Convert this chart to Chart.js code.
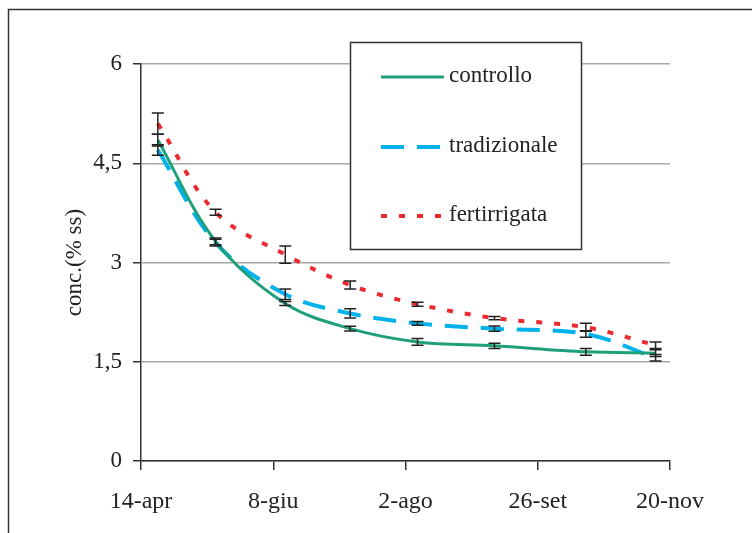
<!DOCTYPE html>
<html>
<head>
<meta charset="utf-8">
<script src="https://cdn.jsdelivr.net/npm/chart.js@4"></script>
<style>
    html, body { margin: 0; padding: 0; background: #fff; }
    #wrap { width: 752px; height: 533px; }
</style>
</head>
<body>
<div id="wrap"><canvas id="chart" width="752" height="533"></canvas></div>
<script>
// =============================
// DATA
// =============================
// sampling dates, as days after 14-apr
const samplingDays = [7, 31, 60, 87, 115, 147, 185, 214];

const controllo    = [4.85, 3.32, 2.38, 2.00, 1.80, 1.74, 1.65, 1.63];
const tradizionale = [4.70, 3.30, 2.52, 2.23, 2.08, 2.00, 1.92, 1.56];
const fertirrigata = [5.10, 3.76, 3.12, 2.66, 2.37, 2.16, 2.02, 1.75];

// half-length of the error bars
const controlloErr    = [0.09, 0.05, 0.03, 0.035, 0.05, 0.04, 0.05, 0.05];
const tradizionaleErr = [0.08, 0.05, 0.08, 0.07, 0.03, 0.04, 0.05, 0.05];
const fertirrigataErr = [0.16, 0.045, 0.13, 0.06, 0.03, 0.025, 0.06, 0.05];

const xTickLabels = ["14-apr", "8-giu", "2-ago", "26-set", "20-nov"];
const yTickLabels = ["0", "1,5", "3", "4,5", "6"];

const seriesNames = ["controllo", "tradizionale", "fertirrigata"];

// =============================
// HELPERS
// =============================
function toPoints(values) {
    return values.map((v, i) => ({ x: samplingDays[i], y: v }));
}

const FONT = "'Liberation Serif', 'Times New Roman', serif";
const INK = "#222";

// =============================
// PLUGINS
// =============================
const errorBars = {
    id: "errorBars",
    afterDatasetsDraw(chart) {
        const { ctx, scales: { x, y } } = chart;
        ctx.save();
        ctx.strokeStyle = INK;
        ctx.lineWidth = 1.5;
        chart.data.datasets.forEach(ds => {
            ds.data.forEach((p, i) => {
                const e = ds.errors[i];
                const px = x.getPixelForValue(p.x);
                const top = y.getPixelForValue(p.y + e);
                const bot = y.getPixelForValue(p.y - e);
                ctx.beginPath();
                ctx.moveTo(px, top); ctx.lineTo(px, bot);
                ctx.moveTo(px - 6, top); ctx.lineTo(px + 6, top);
                ctx.moveTo(px - 6, bot); ctx.lineTo(px + 6, bot);
                ctx.stroke();
            });
        });
        ctx.restore();
    }
};

const boxLegend = {
    id: "boxLegend",
    afterDraw(chart) {
        const ctx = chart.ctx;
        ctx.save();
        // outer frame of the picture
        ctx.strokeStyle = "#333";
        ctx.lineWidth = 1.5;
        ctx.beginPath();
        ctx.moveTo(8.5, 533); ctx.lineTo(8.5, 9.5); ctx.lineTo(752, 9.5);
        ctx.stroke();

        // legend box
        ctx.fillStyle = "#fff";
        ctx.fillRect(350, 42, 232, 208);
        ctx.strokeRect(350.5, 42.5, 231, 207);

        const rows = [77, 147, 216];
        ctx.font = "23px " + FONT;
        ctx.textBaseline = "middle";
        chart.data.datasets.forEach((ds, i) => {
            ctx.strokeStyle = ds.borderColor;
            ctx.lineWidth = ds.borderWidth;
            ctx.setLineDash(ds.borderDash || []);
            ctx.beginPath();
            ctx.moveTo(381, rows[i]); ctx.lineTo(444, rows[i]);
            ctx.stroke();
            ctx.setLineDash([]);
            ctx.fillStyle = INK;
            ctx.fillText(ds.label, 449, rows[i] - 1);
        });
        ctx.restore();
    }
};

// =============================
// CHART
// =============================
Chart.defaults.font.family = FONT;
Chart.defaults.color = INK;

new Chart(document.getElementById("chart"), {
    type: "line",
    data: {
        datasets: [{
            label: seriesNames[0],
            data: toPoints(controllo),
            errors: controlloErr,
            borderColor: "#1fa07c",
            borderWidth: 3
        }, {
            label: seriesNames[1],
            data: toPoints(tradizionale),
            errors: tradizionaleErr,
            borderColor: "#00b2ec",
            borderWidth: 4,
            borderDash: [23, 13]
        }, {
            label: seriesNames[2],
            data: toPoints(fertirrigata),
            errors: fertirrigataErr,
            borderColor: "#ec2a2e",
            borderWidth: 4,
            borderDash: [6, 12]
        }]
    },
    options: {
        responsive: false,
        animation: false,
        layout: { padding: { left: 0, top: 64, right: 82, bottom: 0 } },
        elements: {
            point: { radius: 0 },
            line: { tension: 0.35, fill: false }
        },
        plugins: {
            legend: { display: false },
            tooltip: { enabled: false }
        },
        scales: {
            x: {
                type: "linear",
                min: 0,
                max: 220,
                afterFit: s => { s.height = 72; },
                ticks: {
                    stepSize: 55,
                    autoSkip: false,
                    maxRotation: 0,
                    padding: 17,
                    font: { size: 24 },
                    callback: v => xTickLabels[v / 55]
                },
                grid: { drawOnChartArea: false, tickLength: 9, tickColor: "#333", lineWidth: 1.5 },
                border: { color: "#333", width: 1.5 }
            },
            y: {
                min: 0,
                max: 6,
                afterFit: s => { s.width = 141; },
                ticks: {
                    stepSize: 1.5,
                    padding: 11,
                    font: { size: 23 },
                    callback: v => yTickLabels[Math.round(v / 1.5)]
                },
                grid: { color: "#a8a8a8", lineWidth: 1.5, tickLength: 8, tickColor: "#333" },
                border: { color: "#333", width: 1.5 },
                title: {
                    display: true,
                    text: "conc.(% ss)",
                    font: { size: 23 },
                    padding: { top: 61, bottom: 0 }
                }
            }
        }
    },
    plugins: [errorBars, boxLegend]
});
</script>
</body>
</html>
